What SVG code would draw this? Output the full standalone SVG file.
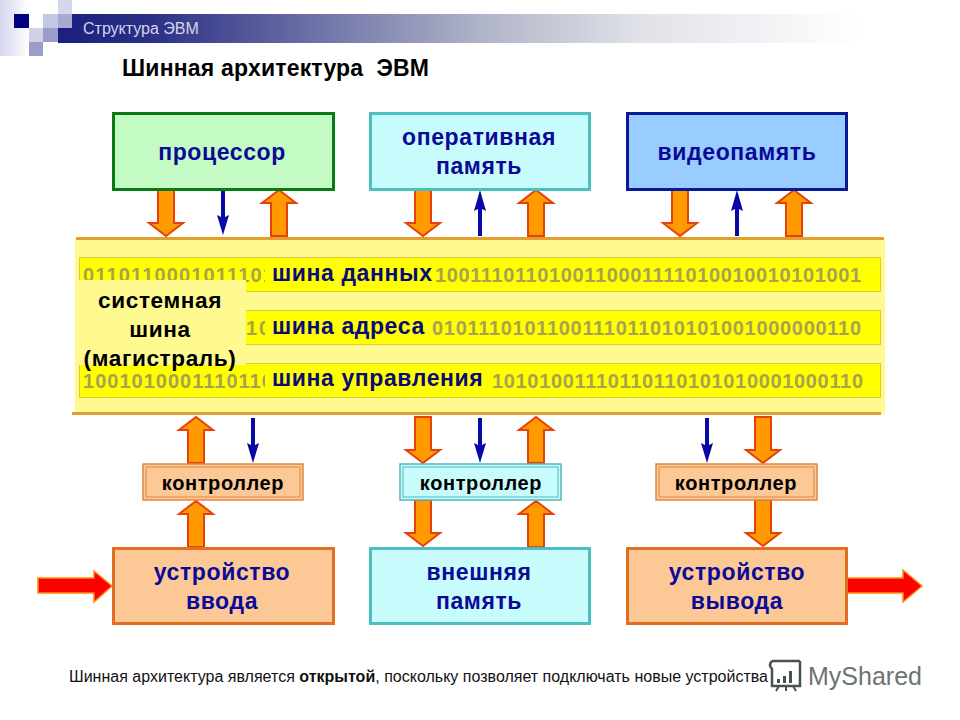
<svg xmlns="http://www.w3.org/2000/svg" width="960" height="720" viewBox="0 0 960 720">
<style>
text{font-family:"Liberation Sans",Arial,sans-serif}
.b{font-weight:bold;text-anchor:middle;letter-spacing:.6px}
.node{font-size:23px;fill:#0a0a96}
.ctl{font-size:20px;fill:#000}
.bits{font-size:20px;font-weight:bold;fill:#a8a250}
.bus{font-size:23px;font-weight:bold;fill:#0a0a78;letter-spacing:.6px}
.lane{fill:#ffff00;stroke:#d8cc40;stroke-width:1}
.block{fill:#ff9a00;stroke:#e8400a;stroke-width:2;stroke-linejoin:miter}
.red{fill:#ff0000;stroke:#ff8c10;stroke-width:1.5}
.thin{fill:#0808a8;stroke:none}
</style>
<defs>
<linearGradient id="band"><stop offset="0" stop-color="#1a1f80"/><stop offset=".1" stop-color="#2a2f86"/><stop offset=".47" stop-color="#b0b4c8"/><stop offset=".645" stop-color="#e0e2e8"/><stop offset=".89" stop-color="#fff"/></linearGradient>
<linearGradient id="fade"><stop offset="0" stop-color="#d4d6ee"/><stop offset="1" stop-color="#fff"/></linearGradient>
<path id="dn" d="M-8,0H8V33H17L0,46L-17,33H-8Z"/>
<path id="up" d="M-8,46H8V13H17L0,0L-17,13H-8Z"/>
<path id="tdn" d="M-2,0H2V27L6,25L0,45L-6,25L-2,27Z"/>
<path id="tup" d="M-2,46H2V19L6,21L0,0L-6,21L-2,19Z"/>
</defs>
<g id="header">
<rect x="58" y="14" width="902" height="29" fill="url(#band)"/>
<rect x="0" y="0" width="29" height="56" fill="url(#fade)"/>
<rect x="14" y="14" width="15" height="14" fill="#000080"/>
<rect x="43" y="14" width="15" height="14" fill="#c4c7e4"/>
<rect x="58" y="0" width="14" height="14" fill="#d4d6ec"/>
<rect x="58" y="14" width="14" height="14" fill="#a8abd0"/>
<rect x="29" y="28" width="14" height="14" fill="#d0d2e8"/>
<rect x="43" y="28" width="15" height="14" fill="#9a9dc8"/>
<rect x="29" y="42" width="14" height="14" fill="#9a9dc8"/>
<text x="83" y="34" font-size="16" fill="#d4d6e6">Структура ЭВМ</text>
</g>
<text id="title" x="122" y="76" font-size="23" font-weight="bold" fill="#000" textLength="307" xml:space="preserve">Шинная архитектура  ЭВМ</text>
<g id="bus">
<rect x="75" y="238" width="810" height="176" fill="#fffa90"/>
<rect x="76" y="237" width="808" height="3" fill="#e0a030"/>
<rect x="72" y="412" width="809" height="3" fill="#e0a030"/>
<rect class="lane" x="79.500" y="257.500" width="801" height="34"/>
<rect class="lane" x="79.500" y="310.500" width="801" height="34"/>
<rect class="lane" x="79.500" y="363.500" width="801" height="34"/>
<text class="bits" x="83" y="282" textLength="202" lengthAdjust="spacing">01101100010111011</text>
<text class="bits" x="435" y="282" textLength="426" lengthAdjust="spacing">1001110110100110001111010010010101001</text>
<text class="bits" x="246" y="335" textLength="24" lengthAdjust="spacing">10</text>
<text class="bits" x="432" y="335" textLength="429" lengthAdjust="spacing">0101110101100111011010101001000000110</text>
<text class="bits" x="83" y="388" textLength="202" lengthAdjust="spacing">10010100011101101</text>
<text class="bits" x="492" y="388" textLength="371" lengthAdjust="spacing">10101001110110110101010001000110</text>
<rect x="265" y="258" width="170" height="33" fill="#ffff00"/>
<rect x="265" y="311" width="167" height="33" fill="#ffff00"/>
<rect x="265" y="364" width="226" height="33" fill="#ffff00"/>
<text class="bus" x="272" y="281">шина данных</text>
<text class="bus" x="272" y="334">шина адреса</text>
<text class="bus" x="272" y="386">шина управления</text>
<rect x="77" y="280" width="169" height="85" fill="#fffa90"/>
<g font-size="22.600" font-weight="bold" fill="#000" text-anchor="middle" letter-spacing=".6">
<text x="160" y="308">системная</text>
<text x="160" y="337">шина</text>
<text x="160" y="366">(магистраль)</text>
</g>
</g>
<g id="connectors">
<g class="block">
<use href="#dn" x="166" y="190"/><use href="#up" x="279" y="190"/>
<use href="#dn" x="423" y="190"/><use href="#up" x="536" y="190"/>
<use href="#dn" x="680" y="190"/><use href="#up" x="794" y="190"/>
<use href="#up" x="196" y="417"/><use href="#dn" x="423" y="417"/><use href="#up" x="536" y="417"/><use href="#dn" x="763" y="417"/>
<use href="#up" x="196" y="501"/><use href="#dn" x="423" y="500"/><use href="#up" x="536" y="501"/><use href="#dn" x="763" y="500"/>
</g>
<g class="thin">
<use href="#tdn" x="223" y="190"/><use href="#tup" x="480" y="190"/><use href="#tup" x="737" y="190"/>
<use href="#tdn" x="253" y="418"/><use href="#tdn" x="480" y="418"/><use href="#tdn" x="707" y="418"/>
</g>
<path class="red" d="M38,578H94V571L112,586L94,602V593H38Z"/>
<path class="red" d="M847,578H903V570L922,586L903,602V593H847Z"/>
</g>
<g id="cpu"><rect x="113.500" y="113.500" width="220" height="76" fill="#c4fbc4" stroke="#0a7a14" stroke-width="3"/><text class="b node" x="222" y="160">процессор</text></g>
<g id="ram"><rect x="370.500" y="113.500" width="219" height="76" fill="#c8fcfc" stroke="#4cc0c0" stroke-width="3"/><text class="b node" x="479" y="145">оперативная</text><text class="b node" x="479" y="174">память</text></g>
<g id="vram"><rect x="627.500" y="113.500" width="219" height="76" fill="#99ccff" stroke="#0a1a96" stroke-width="3"/><text class="b node" x="737" y="160">видеопамять</text></g>
<g id="ctl1"><rect x="143" y="464" width="160" height="36" fill="#fcc896" stroke="#e08840" stroke-width="1.500"/><rect x="146" y="467" width="154" height="30" fill="none" stroke="#e08840"/><text class="b ctl" x="223" y="490">контроллер</text></g>
<g id="ctl2"><rect x="400" y="464" width="161" height="36" fill="#c8fcfc" stroke="#50b8c0" stroke-width="1.500"/><rect x="403" y="467" width="155" height="30" fill="none" stroke="#50b8c0"/><text class="b ctl" x="481" y="490">контроллер</text></g>
<g id="ctl3"><rect x="656" y="464" width="161" height="36" fill="#fcc896" stroke="#e08840" stroke-width="1.500"/><rect x="659" y="467" width="155" height="30" fill="none" stroke="#e08840"/><text class="b ctl" x="736" y="490">контроллер</text></g>
<g id="input"><rect x="113.500" y="548.500" width="220" height="75" fill="#fcc896" stroke="#e07020" stroke-width="3"/><text class="b node" x="222" y="580">устройство</text><text class="b node" x="222" y="609">ввода</text></g>
<g id="disk"><rect x="370.500" y="548.500" width="219" height="75" fill="#c8fcfc" stroke="#4cc0c0" stroke-width="3"/><text class="b node" x="479" y="580">внешняя</text><text class="b node" x="479" y="609">память</text></g>
<g id="output"><rect x="627.500" y="548.500" width="219" height="75" fill="#fcc896" stroke="#e07020" stroke-width="3"/><text class="b node" x="737" y="580">устройство</text><text class="b node" x="737" y="609">вывода</text></g>
<text id="note" x="69" y="682" font-size="16" fill="#111" textLength="699">Шинная архитектура является <tspan font-weight="bold">открытой</tspan>, поскольку позволяет подключать новые устройства</text>
<g id="watermark">
<g fill="none" stroke="#4a5250" stroke-width="2.500">
<path d="M772,661H800M772,661Q768,665 772,669V686H800V661"/>
<path d="M779,686L776,691M793,686L796,691M786,686V691" stroke-width="2"/>
</g>
<rect x="777" y="679" width="3" height="4" fill="#4a5250"/><rect x="783" y="676" width="3" height="7" fill="#4a5250"/><rect x="789" y="671" width="3" height="12" fill="#4a5250"/>
<text x="808" y="685" font-size="25" fill="#6c7472">MyShared</text>
</g>
</svg>
